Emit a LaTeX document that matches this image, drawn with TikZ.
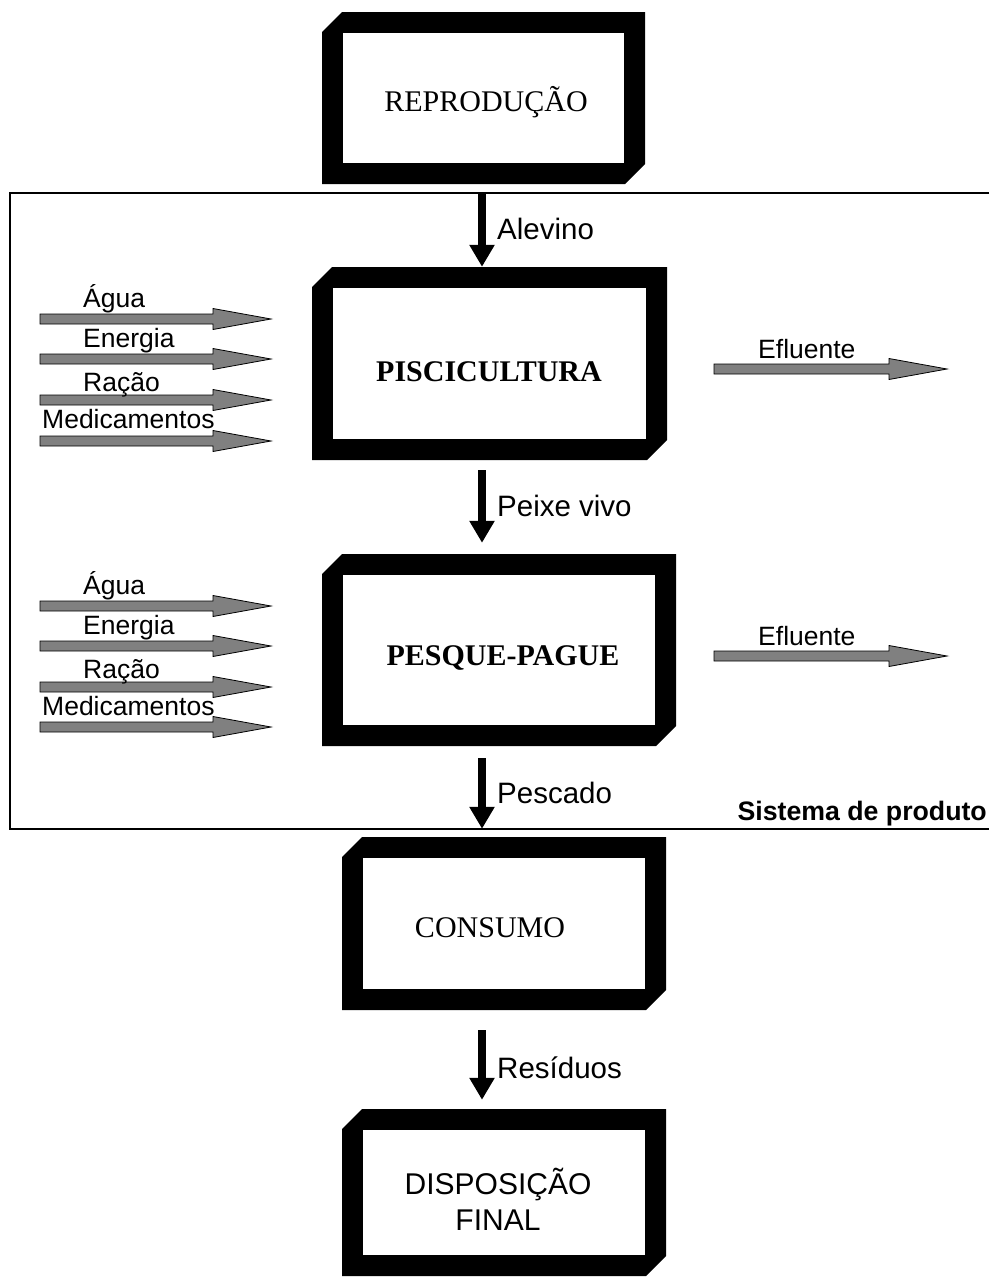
\documentclass[tikz,border=0pt]{standalone}
\usepackage{fontspec}
\setmainfont{Liberation Serif}
\newfontfamily\arialf{Liberation Sans}
\usetikzlibrary{arrows.meta,calc}
\tikzset{
  boxlbl/.style={anchor=base,inner sep=0pt,font=\fontsize{30}{36}\selectfont},
  flowlbl/.style={anchor=base west,inner sep=0pt,font=\arialf\fontsize{29.5}{34}\selectfont},
  inlbl/.style={anchor=base west,inner sep=0pt,font=\arialf\fontsize{26.5}{31}\selectfont},
  blkarrow/.style={line width=8pt,-{Triangle[width=24pt,length=22pt]}},
  grayarrow/.style={fill=gray,draw=black,line width=0.8pt,line join=miter},
  sysline/.style={line width=1.5pt,black}
}
\newcommand{\procbox}[5]{%
  \fill[black] (#2,#3+20) -- (#2+20,#3) -- (#4,#3) -- (#4,#5-20) -- (#4-20,#5) -- (#2,#5) -- cycle;
  \fill[white] (#2+21,#3+21) rectangle (#4-21,#5-21);
  \node[inner sep=0pt,minimum width={(#4-#2)*1pt},minimum height={(#5-#3)*1pt}] (#1) at ({(#2+#4)/2},{(#3+#5)/2}) {};
}
\newcommand{\garrow}[4]{%
  \coordinate (#1s) at (#2,#4);
  \coordinate (#1t) at (#3,#4);
  \filldraw[grayarrow] (#2,#4-5) -- (#3-58,#4-5) -- (#3-58,#4-10.5) -- (#3,#4) -- (#3-58,#4+10.5) -- (#3-58,#4+5) -- (#2,#4+5) -- cycle;
}
\begin{document}
\begin{tikzpicture}[x=1pt,y=-1pt]
\useasboundingbox (0,0) rectangle (989,1277);
\fill[white] (0,0) rectangle (989,1277);

% system boundary
\coordinate (sysTR) at (989,193);
\coordinate (sysTL) at (10,193);
\coordinate (sysBL) at (10,829);
\coordinate (sysBR) at (989,829);
\draw[sysline] (sysTR) -- (sysTL) -- (sysBL) -- (sysBR);
\node[anchor=base east,inner sep=0pt,font=\arialf\bfseries\fontsize{26.7}{31}\selectfont] (sys) at (987,820) {Sistema de produto};

% boxes
\procbox{rep}{322}{12}{645}{184}
\procbox{pisc}{312}{267}{667}{460}
\procbox{pesq}{322}{554}{676}{746}
\procbox{cons}{342}{837}{666}{1010}
\procbox{disp}{342}{1109}{666}{1276}

\node[boxlbl] (reptxt) at (486,111) {REPRODUÇÃO};
\node[boxlbl,font=\bfseries\fontsize{30}{36}\selectfont] (pisctxt) at (489,381) {PISCICULTURA};
\node[boxlbl,font=\bfseries\fontsize{30}{36}\selectfont] (pesqtxt) at (503,665) {PESQUE-PAGUE};
\node[boxlbl] (constxt) at (490,937) {CONSUMO};
\node[boxlbl,font=\arialf\fontsize{30}{36}\selectfont] (disptxt1) at (498,1194) {DISPOSIÇÃO};
\node[boxlbl,font=\arialf\fontsize{30}{36}\selectfont] (disptxt2) at (498,1230) {FINAL};

% main flow arrows
\coordinate (ax) at (482,0);
\draw[blkarrow,shorten <=9pt] (rep.south -| ax) -- (pisc.north -| ax);
\draw[blkarrow,shorten <=10pt,shorten >=11pt] (pisc.south -| ax) -- (pesq.north -| ax);
\draw[blkarrow,shorten <=12pt,shorten >=8pt] (pesq.south -| ax) -- (cons.north -| ax);
\draw[blkarrow,shorten <=20pt,shorten >=9pt] (cons.south -| ax) -- (disp.north -| ax);

\node[flowlbl] (l1) at (497,239) {Alevino};
\node[flowlbl] (l2) at (497,516) {Peixe vivo};
\node[flowlbl] (l3) at (497,803) {Pescado};
\node[flowlbl] (l4) at (497,1078) {Resíduos};

% inputs to piscicultura
\garrow{pa1}{40}{271}{319}
\garrow{pa2}{40}{271}{359}
\garrow{pa3}{40}{271}{400}
\garrow{pa4}{40}{271}{441}
\node[inlbl] (pi1) at (83,307) {Água};
\node[inlbl] (pi2) at (83,347) {Energia};
\node[inlbl] (pi3) at (83,391) {Ração};
\node[inlbl] (pi4) at (42,428) {Medicamentos};
\garrow{pe1}{714}{947}{369}
\node[inlbl] (pe1l) at (758,358) {Efluente};

% inputs to pesque-pague
\garrow{qa1}{40}{271}{606}
\garrow{qa2}{40}{271}{646}
\garrow{qa3}{40}{271}{687}
\garrow{qa4}{40}{271}{727}
\node[inlbl] (qi1) at (83,594) {Água};
\node[inlbl] (qi2) at (83,634) {Energia};
\node[inlbl] (qi3) at (83,678) {Ração};
\node[inlbl] (qi4) at (42,715) {Medicamentos};
\garrow{qe1}{714}{947}{656}
\node[inlbl] (qe1l) at (758,645) {Efluente};
\end{tikzpicture}
\end{document}
